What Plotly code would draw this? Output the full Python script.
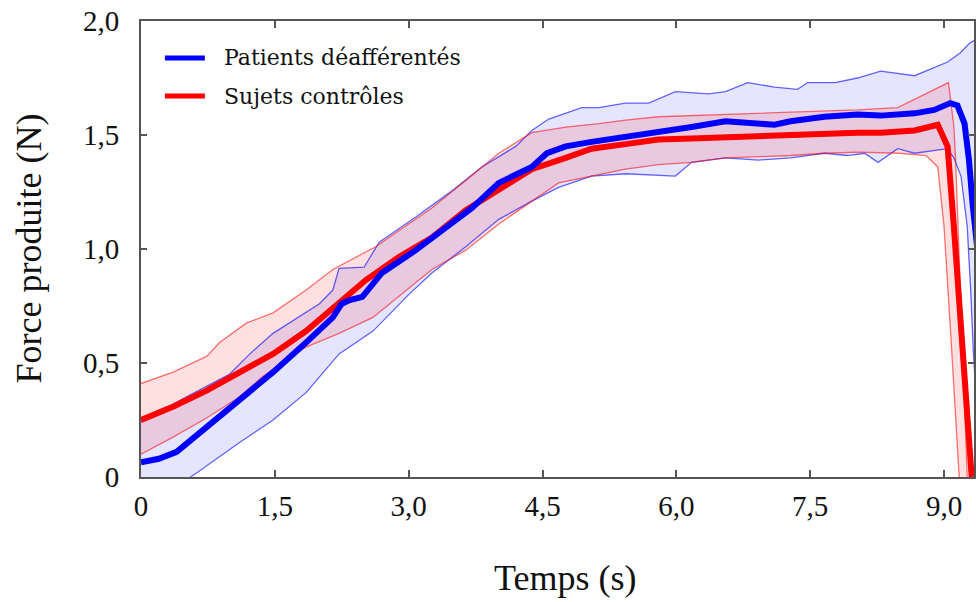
import plotly.graph_objects as go

# ---- data ----
blue_mean_x = [0, 0.2, 0.4, 0.74, 1.1, 1.48, 1.85, 2.15, 2.25, 2.34, 2.48, 2.7, 3.08, 3.45, 3.71, 4.01, 4.38, 4.55, 4.76, 5.05, 5.43, 5.8, 6.17, 6.55, 6.92, 7.1, 7.28, 7.66, 8.03, 8.29, 8.67, 8.89, 9.07, 9.15, 9.23, 9.28, 9.32, 9.4]
blue_mean_y = [0.065, 0.08, 0.11, 0.22, 0.34, 0.46, 0.59, 0.70, 0.76, 0.776, 0.79, 0.895, 0.995, 1.10, 1.18, 1.29, 1.36, 1.42, 1.45, 1.47, 1.49, 1.51, 1.535, 1.56, 1.55, 1.545, 1.56, 1.58, 1.59, 1.585, 1.595, 1.61, 1.64, 1.63, 1.55, 1.39, 1.20, 0.90]

blue_up_x = [0, 0.5, 0.99, 1.22, 1.48, 1.66, 2.0, 2.15, 2.22, 2.5, 2.67, 3.08, 3.45, 3.82, 4.2, 4.38, 4.57, 4.94, 5.13, 5.43, 5.69, 5.99, 6.36, 6.55, 6.8, 7.1, 7.36, 7.47, 7.78, 8.03, 8.29, 8.67, 8.85, 9.04, 9.18, 9.28, 9.4]
blue_up_y = [0.24, 0.35, 0.45, 0.54, 0.63, 0.675, 0.76, 0.82, 0.915, 0.92, 1.03, 1.14, 1.245, 1.36, 1.45, 1.52, 1.57, 1.62, 1.62, 1.64, 1.64, 1.69, 1.68, 1.69, 1.73, 1.71, 1.70, 1.73, 1.73, 1.75, 1.78, 1.76, 1.79, 1.82, 1.86, 1.90, 1.93]

blue_lo_x = [0, 0.3, 0.63, 1.1, 1.48, 1.85, 2.22, 2.6, 3.0, 3.26, 3.64, 4.01, 4.38, 4.68, 5.05, 5.43, 5.99, 6.17, 6.55, 6.92, 7.28, 7.66, 7.92, 8.11, 8.26, 8.48, 8.67, 9.04, 9.11, 9.19, 9.26, 9.3, 9.33, 9.4]
blue_lo_y = [-0.15, -0.07, 0.02, 0.15, 0.25, 0.37, 0.54, 0.64, 0.80, 0.895, 1.01, 1.13, 1.21, 1.27, 1.32, 1.33, 1.32, 1.38, 1.40, 1.39, 1.40, 1.42, 1.41, 1.42, 1.38, 1.44, 1.42, 1.44, 1.40, 1.32, 1.10, 0.81, 0.54, 0.10]

red_mean_x = [0, 0.37, 0.74, 1.1, 1.48, 1.85, 2.15, 2.52, 2.89, 3.26, 3.64, 4.01, 4.38, 4.76, 5.05, 5.43, 5.8, 6.17, 6.55, 6.92, 7.28, 7.66, 8.03, 8.29, 8.67, 8.93, 9.04, 9.11, 9.19, 9.26, 9.31]
red_mean_y = [0.25, 0.31, 0.38, 0.46, 0.54, 0.64, 0.74, 0.864, 0.965, 1.05, 1.17, 1.26, 1.35, 1.40, 1.44, 1.46, 1.48, 1.485, 1.49, 1.50, 1.505, 1.505, 1.51, 1.51, 1.52, 1.545, 1.45, 1.10, 0.66, 0.22, 0.0]

red_up_x = [0, 0.36, 0.74, 0.88, 1.18, 1.48, 1.85, 2.15, 2.63, 2.89, 3.26, 3.64, 4.01, 4.38, 4.76, 5.13, 5.43, 5.8, 6.17, 6.55, 6.92, 7.28, 7.66, 8.03, 8.48, 8.74, 8.93, 9.05, 9.11, 9.13, 9.26]
red_up_y = [0.41, 0.46, 0.53, 0.59, 0.675, 0.72, 0.82, 0.91, 1.01, 1.08, 1.18, 1.30, 1.42, 1.51, 1.535, 1.55, 1.565, 1.58, 1.585, 1.59, 1.595, 1.60, 1.605, 1.61, 1.62, 1.67, 1.71, 1.73, 1.54, 1.39, 0.0]

red_lo_x = [0, 0.36, 0.74, 1.1, 1.36, 1.85, 2.22, 2.6, 3.26, 3.64, 4.01, 4.38, 4.68, 5.43, 5.8, 6.17, 6.55, 6.92, 7.28, 7.66, 8.03, 8.5, 8.8, 8.93, 9.0, 9.07, 9.17]
red_lo_y = [0.10, 0.175, 0.26, 0.35, 0.44, 0.57, 0.63, 0.70, 0.91, 0.995, 1.11, 1.21, 1.29, 1.35, 1.37, 1.38, 1.40, 1.405, 1.41, 1.42, 1.425, 1.42, 1.41, 1.36, 1.10, 0.66, 0.0]

series_names = ["Patients déafférentés", "Sujets contrôles"]

x_ticks = [0, 1.5, 3.0, 4.5, 6.0, 7.5, 9.0]
x_tick_text = ["0", "1,5", "3,0", "4,5", "6,0", "7,5", "9,0"]
y_ticks = [0, 0.5, 1.0, 1.5, 2.0]
y_tick_text = ["0", "0,5", "1,0", "1,5", "2,0"]

BLUE = "#0000FF"
RED = "#FF0000"
FONT = "Liberation Serif"
LEGFONT = "DejaVu Serif"
TXT = "#111111"

fig = go.Figure()

# bands
fig.add_trace(go.Scatter(x=blue_up_x + blue_lo_x[::-1], y=blue_up_y + blue_lo_y[::-1],
                         fill="toself", fillcolor="rgba(0,0,255,0.10)", mode="lines",
                         line=dict(width=0), showlegend=False, hoverinfo="skip"))
fig.add_trace(go.Scatter(x=red_up_x + red_lo_x[::-1], y=red_up_y + red_lo_y[::-1],
                         fill="toself", fillcolor="rgba(255,0,0,0.12)", mode="lines",
                         line=dict(width=0), showlegend=False, hoverinfo="skip"))

# band edges
for xs, ys, c in [(blue_up_x, blue_up_y, "rgba(0,0,255,0.6)"), (blue_lo_x, blue_lo_y, "rgba(0,0,255,0.6)"),
                  (red_up_x, red_up_y, "rgba(255,0,0,0.55)"), (red_lo_x, red_lo_y, "rgba(255,0,0,0.55)")]:
    fig.add_trace(go.Scatter(x=xs, y=ys, mode="lines", line=dict(color=c, width=1.3),
                             showlegend=False, hoverinfo="skip"))

# means
fig.add_trace(go.Scatter(x=red_mean_x, y=red_mean_y, mode="lines", name=series_names[1],
                         line=dict(color=RED, width=6), showlegend=False))
fig.add_trace(go.Scatter(x=blue_mean_x, y=blue_mean_y, mode="lines", name=series_names[0],
                         line=dict(color=BLUE, width=6), showlegend=False))

axis_common = dict(showgrid=False, zeroline=False, showline=True, linecolor="#555555", linewidth=2,
                   ticks="inside", tickcolor="#555555", tickwidth=2, mirror="ticks",
                   tickfont=dict(family=FONT, size=29, color=TXT))

fig.update_xaxes(range=[0, 9.336], tickvals=x_ticks, ticktext=x_tick_text, ticklen=7,
                 ticklabelstandoff=2, **axis_common)
fig.update_yaxes(range=[0, 2.0], tickvals=y_ticks, ticktext=y_tick_text, ticklen=6,
                 ticklabelstandoff=14, **axis_common)

fig.add_annotation(text="Temps (s)", xref="paper", yref="paper", x=0.509, y=-0.2215,
                   showarrow=False, font=dict(family=FONT, size=36, color=TXT),
                   xanchor="center", yanchor="middle")
fig.add_annotation(text="Force produite (N)", xref="paper", yref="paper", x=-0.135, y=0.5,
                   showarrow=False, textangle=-90, font=dict(family=FONT, size=36, color=TXT),
                   xanchor="center", yanchor="middle")

# legend (drawn inside the plot, top-left)
for name, col, ly in [(series_names[0], BLUE, 0.9189), (series_names[1], RED, 0.8355)]:
    fig.add_shape(type="line", xref="paper", yref="paper", x0=0.0287, x1=0.0767, y0=ly, y1=ly,
                  line=dict(color=col, width=5))
    fig.add_annotation(text=name, xref="paper", yref="paper", x=0.0970, y=ly,
                       showarrow=False, xanchor="left", yanchor="middle",
                       font=dict(family=LEGFONT, size=22, color=TXT))

fig.update_layout(
    width=976, height=602,
    margin=dict(l=141, r=0, t=21, b=125),
    plot_bgcolor="white", paper_bgcolor="white",
    font=dict(family=FONT, color=TXT),
    showlegend=False,
)

fig.write_html("out.html")
